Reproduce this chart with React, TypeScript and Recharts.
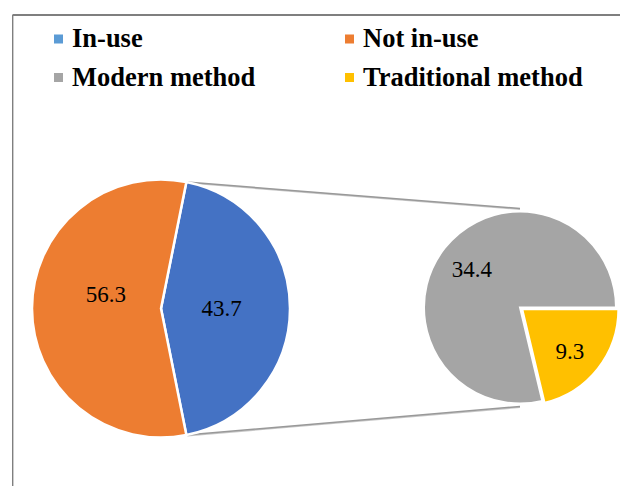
import React from 'react';
import { PieChart, Pie, Cell, Customized } from 'recharts';

// ---- data ----
const usageNames = ['In-use', 'Not in-use'];
const usageValues = [43.7, 56.3];
const methodNames = ['Modern method', 'Traditional method'];
const methodValues = [34.4, 9.3];

const usageColors = ['#4472C4', '#ED7D31'];
const usageLegendColors = ['#5B9BD5', '#ED7D31'];
const methodColors = ['#A5A5A5', '#FFC000'];

const legendNames = [usageNames[0], usageNames[1], methodNames[0], methodNames[1]];
const legendColors = [usageLegendColors[0], usageLegendColors[1], methodColors[0], methodColors[1]];

const usageData = usageNames.map((name, i) => ({ name, value: usageValues[i] }));
const methodData = methodNames.map((name, i) => ({ name, value: methodValues[i] }));

// ---- layout ----
const W = 620;
const H = 486;
const C1 = { x: 161, y: 308.5, r: 129 };
const C2 = { x: 520, y: 307.5, r: 96 };
const EXPLODE = 3;
const FONT = "'Liberation Serif', 'Times New Roman', serif";
const RAD = Math.PI / 180;
// label placement (radius fraction, angle nudge) per slice of the left pie
const leftLabelFrac = [0.47, 0.44];
const leftLabelNudge = [0, -14];

const usageTotal = usageValues.reduce((a, b) => a + b, 0);
const inUseSweep = (360 * usageValues[0]) / usageTotal;
const leftStart = -inUseSweep / 2;

const methodTotal = methodValues.reduce((a, b) => a + b, 0);
const tradSweep = (360 * methodValues[1]) / methodTotal;
const tradMid = -tradSweep / 2;
const exDx = EXPLODE * Math.cos(-tradMid * RAD);
const exDy = EXPLODE * Math.sin(-tradMid * RAD);

const polar = (cx: number, cy: number, r: number, a: number) => ({
  x: cx + r * Math.cos(-a * RAD),
  y: cy + r * Math.sin(-a * RAD),
});

const makeLabel = (fracs: number[], nudges: number[], only?: number) => (props: any) => {
  const { cx, cy, outerRadius, midAngle, value, index } = props;
  if (only !== undefined && index !== only) return null;
  const p = polar(cx, cy, outerRadius * fracs[index], midAngle + nudges[index]);
  return (
    <text
      x={p.x}
      y={p.y}
      textAnchor="middle"
      dominantBaseline="central"
      fontFamily={FONT}
      fontSize={23}
      fill="#000"
      style={{ fontFamily: FONT }}
    >
      {value}
    </text>
  );
};

const Decor = () => {
  const t1 = polar(C1.x, C1.y, C1.r, inUseSweep / 2);
  const b1 = polar(C1.x, C1.y, C1.r, -inUseSweep / 2);
  const t2 = { x: C2.x, y: C2.y - C2.r - 3 };
  const b2 = { x: C2.x, y: C2.y + C2.r + 3 };
  const colX = [54, 345];
  const rowY = [39, 77.5];
  return (
    <g>
      <line x1={12.5} y1={15} x2={W} y2={15} stroke="#7f7f7f" strokeWidth={2} />
      <line x1={12.7} y1={15} x2={12.7} y2={H} stroke="#7f7f7f" strokeWidth={1.4} />
      <line x1={t1.x + 1} y1={t1.y + 0.8} x2={t2.x} y2={t2.y + 0.8} stroke="#c8c8c8" strokeWidth={1.5} />
      <line x1={t1.x} y1={t1.y} x2={t2.x} y2={t2.y} stroke="#999" strokeWidth={1.5} />
      <line x1={b1.x + 1} y1={b1.y + 0.8} x2={b2.x} y2={b2.y + 0.8} stroke="#c8c8c8" strokeWidth={1.5} />
      <line x1={b1.x} y1={b1.y} x2={b2.x} y2={b2.y} stroke="#999" strokeWidth={1.5} />
      {legendNames.map((name, i) => {
        const cx = colX[i % 2];
        const cy = rowY[Math.floor(i / 2)];
        return (
          <g key={name}>
            <rect x={cx} y={cy - 4.5} width={9} height={9} fill={legendColors[i]} />
            <text
              x={cx + 18}
              y={cy + 8}
              style={{ fontFamily: FONT, fontWeight: 'bold', fontSize: 26.5, fill: '#000' }}
            >
              {name}
            </text>
          </g>
        );
      })}
    </g>
  );
};

export default function App() {
  return (
    <div style={{ position: 'absolute', left: 0, top: 0, width: W, height: H, background: '#fff' }}>
      <PieChart width={W} height={H} margin={{ top: 0, right: 0, bottom: 0, left: 0 }}>
        <Customized component={Decor} />
        <Pie
          data={usageData}
          dataKey="value"
          nameKey="name"
          cx={C1.x}
          cy={C1.y}
          outerRadius={C1.r}
          startAngle={leftStart}
          endAngle={leftStart + 360}
          stroke="#fff"
          strokeWidth={2.5}
          label={makeLabel(leftLabelFrac, leftLabelNudge)}
          labelLine={false}
          isAnimationActive={false}
        >
          {usageData.map((d, i) => (
            <Cell key={d.name} fill={usageColors[i]} />
          ))}
        </Pie>
        <Pie
          data={methodData}
          dataKey="value"
          nameKey="name"
          cx={C2.x}
          cy={C2.y}
          outerRadius={C2.r}
          startAngle={0}
          endAngle={360}
          stroke="#fff"
          strokeWidth={2}
          label={makeLabel([0.64, 0.66], [0, 0], 0)}
          labelLine={false}
          isAnimationActive={false}
        >
          {methodData.map((d, i) => (
            <Cell key={d.name} fill={i === 0 ? methodColors[0] : 'transparent'} stroke={i === 0 ? '#fff' : 'none'} />
          ))}
        </Pie>
        <Pie
          data={methodData}
          dataKey="value"
          nameKey="name"
          cx={C2.x + exDx}
          cy={C2.y + exDy}
          outerRadius={C2.r}
          startAngle={0}
          endAngle={360}
          stroke="#fff"
          strokeWidth={2}
          label={makeLabel([0.64, 0.66], [0, -3], 1)}
          labelLine={false}
          isAnimationActive={false}
        >
          {methodData.map((d, i) => (
            <Cell key={d.name} fill={i === 1 ? methodColors[1] : 'transparent'} stroke={i === 1 ? '#fff' : 'none'} />
          ))}
        </Pie>
      </PieChart>
    </div>
  );
}
